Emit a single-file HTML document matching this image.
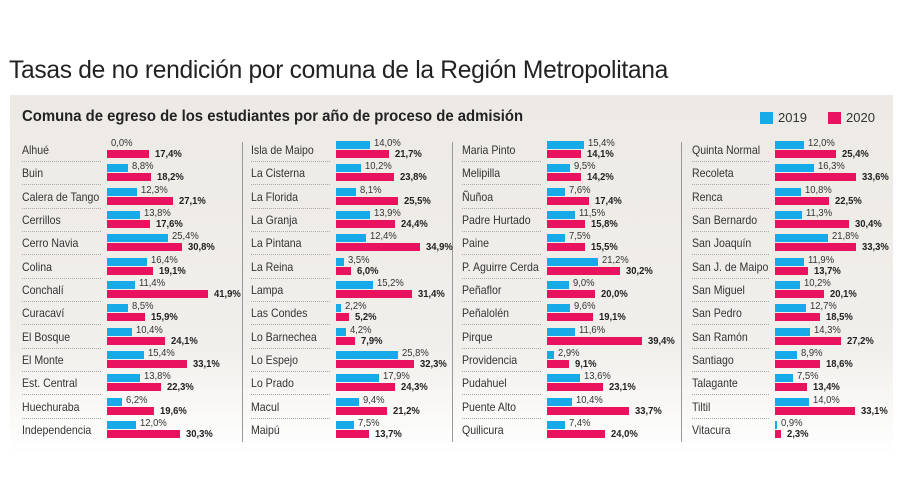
<!DOCTYPE html>
<html><head><meta charset="utf-8">
<style>
body{margin:0;width:900px;height:500px;background:#fff;position:relative;overflow:hidden;font-family:"Liberation Sans Narrow","Liberation Sans",sans-serif;}
#panel{position:absolute;left:10px;top:95px;width:883px;height:360px;background:linear-gradient(#edeae5 0%,#f1efeb 70%,#fff 100%);}
.t{position:absolute;white-space:nowrap;transform-origin:left;}
.lb{transform:scaleX(0.88);}
.v{transform:scaleX(0.9);}
.b{position:absolute;height:8px;}
.bl{background:#17aae8;}.pk{background:#e8125e;}
.sep{position:absolute;height:0;border-top:1px dotted #aaa;}
.div{position:absolute;width:1px;background:#999;top:142px;height:300px;}
</style></head><body>
<div class="t" style="left:9px;top:57px;font-family:'Liberation Sans',sans-serif;font-size:24.6px;color:#222;letter-spacing:-0.3px;">Tasas de no rendición por comuna de la Región Metropolitana</div>
<div id="panel"></div>
<div class="t" style="left:22px;top:108px;font-size:16px;font-weight:bold;color:#222;transform:scaleX(0.93);">Comuna de egreso de los estudiantes por año de proceso de admisión</div>
<div class="b bl" style="left:760px;top:112px;width:13px;height:12px"></div>
<div class="t" style="left:778px;top:110px;font-size:13px;color:#333">2019</div>
<div class="b pk" style="left:828px;top:112px;width:13px;height:12px"></div>
<div class="t" style="left:846px;top:110px;font-size:13px;color:#333">2020</div>
<div class="div" style="left:242px"></div>
<div class="div" style="left:452px"></div>
<div class="div" style="left:681px"></div>
<div id="c"></div>
<script>
var cols=[[22,107,[["Alhué",0,17.4],["Buin",8.8,18.2],["Calera de Tango",12.3,27.1],["Cerrillos",13.8,17.6],["Cerro Navia",25.4,30.8],["Colina",16.4,19.1],["Conchalí",11.4,41.9],["Curacaví",8.5,15.9],["El Bosque",10.4,24.1],["El Monte",15.4,33.1],["Est. Central",13.8,22.3],["Huechuraba",6.2,19.6],["Independencia",12.0,30.3]]],
[251,336,[["Isla de Maipo",14.0,21.7],["La Cisterna",10.2,23.8],["La Florida",8.1,25.5],["La Granja",13.9,24.4],["La Pintana",12.4,34.9],["La Reina",3.5,6.0],["Lampa",15.2,31.4],["Las Condes",2.2,5.2],["Lo Barnechea",4.2,7.9],["Lo Espejo",25.8,32.3],["Lo Prado",17.9,24.3],["Macul",9.4,21.2],["Maipú",7.5,13.7]]],
[462,547,[["Maria Pinto",15.4,14.1],["Melipilla",9.5,14.2],["Ñuñoa",7.6,17.4],["Padre Hurtado",11.5,15.8],["Paine",7.5,15.5],["P. Aguirre Cerda",21.2,30.2],["Peñaflor",9.0,20.0],["Peñalolén",9.6,19.1],["Pirque",11.6,39.4],["Providencia",2.9,9.1],["Pudahuel",13.6,23.1],["Puente Alto",10.4,33.7],["Quilicura",7.4,24.0]]],
[692,775,[["Quinta Normal",12.0,25.4],["Recoleta",16.3,33.6],["Renca",10.8,22.5],["San Bernardo",11.3,30.4],["San Joaquín",21.8,33.3],["San J. de Maipo",11.9,13.7],["San Miguel",10.2,20.1],["San Pedro",12.7,18.5],["San Ramón",14.3,27.2],["Santiago",8.9,18.6],["Talagante",7.5,13.4],["Tiltil",14.0,33.1],["Vitacura",0.9,2.3]]]];
var h="",s=2.42;
function f(v){return v.toFixed(1).replace(".",",")+"%";}
cols.forEach(function(c){c[2].forEach(function(r,i){
var y=141+23.33*i,w1=r[1]*s,w2=r[2]*s;
h+='<div class="t lb" style="left:'+c[0]+'px;top:'+(y+2)+'px;font-size:12px;color:#333">'+r[0]+'</div>';
if(i<12)h+='<div class="sep" style="left:'+c[0]+'px;top:'+(y+20)+'px;width:'+(c[1]-c[0]-6)+'px"></div>';
if(w1>0)h+='<div class="b bl" style="left:'+c[1]+'px;top:'+y+'px;width:'+w1+'px"></div>';
h+='<div class="t v" style="left:'+(c[1]+w1+4)+'px;top:'+(y-4)+'px;font-size:10.5px;color:#333">'+f(r[1])+'</div>';
h+='<div class="b pk" style="left:'+c[1]+'px;top:'+(y+9)+'px;width:'+w2+'px"></div>';
h+='<div class="t v" style="left:'+(c[1]+w2+6)+'px;top:'+(y+7)+'px;font-size:10.5px;font-weight:bold;color:#222">'+f(r[2])+'</div>';
});});
document.getElementById("c").innerHTML=h;
</script>
</body></html>
